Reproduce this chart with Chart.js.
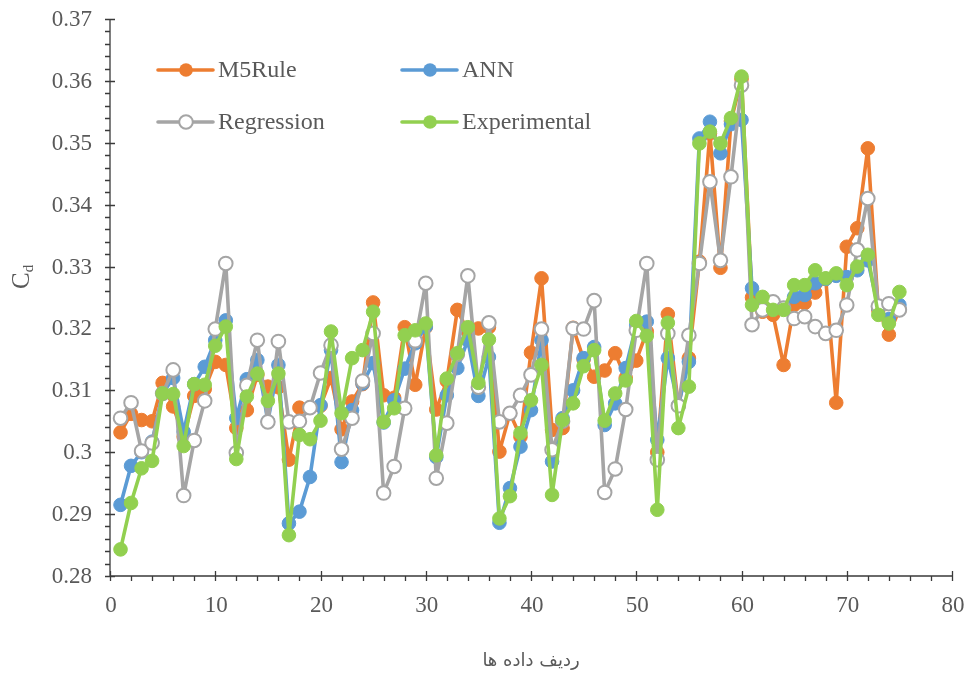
<!DOCTYPE html>
<html>
<head>
<meta charset="utf-8">
<script src="https://cdn.jsdelivr.net/npm/chart.js@4.4.1/dist/chart.umd.min.js"></script>
<style>
  html, body { margin: 0; padding: 0; background: #ffffff; }
  #wrap { width: 968px; height: 679px; position: relative; }
</style>
</head>
<body>
<div id="wrap"><canvas id="c" width="968" height="679"></canvas></div>
<script>
// ---- Data ----
const rowIndex = [1,2,3,4,5,6,7,8,9,10,11,12,13,14,15,16,17,18,19,20,21,22,23,24,25,26,27,28,29,30,31,32,33,34,35,36,37,38,39,40,41,42,43,44,45,46,47,48,49,50,51,52,53,54,55,56,57,58,59,60,61,62,63,64,65,66,67,68,69,70,71,72,73,74,75];

const m5Rule = [0.3032,0.3062,0.3052,0.3050,0.3112,0.3074,0.3025,0.3091,0.3102,0.3146,
  0.3141,0.3039,0.3068,0.3125,0.3106,0.3105,0.2988,0.3072,0.3072,0.3075,
  0.3120,0.3037,0.3082,0.3110,0.3242,0.3092,0.3088,0.3202,0.3109,0.3202,
  0.3069,0.3115,0.3230,0.3195,0.3200,0.3202,0.3001,0.3063,0.3025,0.3161,
  0.3281,0.3036,0.3039,0.3201,0.3150,0.3122,0.3132,0.3160,0.3120,0.3148,
  0.3195,0.3000,0.3223,0.3075,0.3152,0.3308,0.3515,0.3298,0.3535,0.3603,
  0.3250,0.3227,0.3222,0.3141,0.3238,0.3241,0.3258,0.3280,0.3080,0.3332,
  0.3362,0.3491,0.3230,0.3190,0.3230];

const ann = [0.2915,0.2978,0.3000,0.3017,0.3095,0.3120,0.3033,0.3110,0.3138,0.3181,
  0.3213,0.3055,0.3118,0.3149,0.3050,0.3141,0.2885,0.2904,0.2960,0.3076,
  0.3165,0.2984,0.3068,0.3111,0.3144,0.3048,0.3084,0.3135,0.3176,0.3203,
  0.2992,0.3092,0.3136,0.3181,0.3091,0.3154,0.2886,0.2942,0.3009,0.3068,
  0.3181,0.2985,0.3055,0.3100,0.3152,0.3170,0.3044,0.3079,0.3136,0.3205,
  0.3211,0.3020,0.3152,0.3076,0.3146,0.3507,0.3534,0.3483,0.3530,0.3537,
  0.3265,0.3235,0.3232,0.3232,0.3251,0.3254,0.3273,0.3280,0.3285,0.3283,
  0.3294,0.3310,0.3233,0.3215,0.3238];

const regression = [0.3055,0.3080,0.3002,0.3015,0.3095,0.3133,0.2930,0.3019,0.3083,0.3199,
  0.3305,0.2999,0.3108,0.3181,0.3049,0.3179,0.3049,0.3050,0.3072,0.3128,
  0.3173,0.3005,0.3055,0.3115,0.3192,0.2934,0.2977,0.3071,0.3180,0.3273,
  0.2958,0.3047,0.3158,0.3285,0.3105,0.3209,0.3049,0.3063,0.3092,0.3125,
  0.3199,0.3004,0.3050,0.3200,0.3199,0.3245,0.2935,0.2973,0.3069,0.3197,
  0.3305,0.2988,0.3192,0.3075,0.3189,0.3305,0.3437,0.3310,0.3445,0.3593,
  0.3206,0.3230,0.3243,0.3233,0.3216,0.3219,0.3203,0.3192,0.3197,0.3238,
  0.3327,0.3410,0.3236,0.3240,0.3230];

const experimental = [0.2843,0.2918,0.2974,0.2986,0.3095,0.3094,0.3010,0.3110,0.3109,0.3172,
  0.3203,0.2989,0.3090,0.3127,0.3083,0.3127,0.2866,0.3028,0.3021,0.3051,
  0.3195,0.3063,0.3152,0.3165,0.3227,0.3049,0.3071,0.3189,0.3197,0.3208,
  0.2995,0.3119,0.3160,0.3202,0.3112,0.3182,0.2893,0.2929,0.3031,0.3084,
  0.3141,0.2931,0.3052,0.3079,0.3139,0.3165,0.3051,0.3095,0.3116,0.3212,
  0.3188,0.2907,0.3209,0.3039,0.3106,0.3499,0.3518,0.3499,0.3540,0.3607,
  0.3238,0.3251,0.3230,0.3230,0.3270,0.3270,0.3294,0.3281,0.3289,0.3270,
  0.3300,0.3319,0.3222,0.3208,0.3259];

const seriesNames = ['M5Rule', 'ANN', 'Regression', 'Experimental'];
const xTickValues = [0,10,20,30,40,50,60,70,80];
const yTickValues = [0.28,0.29,0.30,0.31,0.32,0.33,0.34,0.35,0.36,0.37];
const xTitle = 'ردیف داده ها';
const yTitleMain = 'C';
const yTitleSub = 'd';

// ---- Styling ----
const colors = ['#ED7D31', '#5B9BD5', '#A5A5A5', '#92D050'];
const textColor = '#595959';
const axisColor = '#3a3a3a';
const serif = '"Liberation Serif", "Times New Roman", serif';

function toPoints(arr) { return rowIndex.map((x, i) => ({ x: x, y: arr[i] })); }

const seriesValues = [m5Rule, ann, regression, experimental];
const datasets = seriesValues.map((vals, i) => {
  const hollow = (i === 2);
  return {
    label: seriesNames[i],
    data: toPoints(vals),
    borderColor: colors[i],
    backgroundColor: colors[i],
    borderWidth: 3.6,
    borderJoinStyle: 'round',
    borderCapStyle: 'round',
    pointRadius: 6.8,
    pointHoverRadius: 6.8,
    pointBackgroundColor: hollow ? '#ffffff' : colors[i],
    pointBorderColor: colors[i],
    pointBorderWidth: hollow ? 2 : 1,
    tension: 0,
    order: 3 - i,
    clip: false
  };
});

const decor = {
  id: 'decor',
  beforeDatasetsDraw(chart) {
    const ctx = chart.ctx, ca = chart.chartArea;
    const xs = chart.scales.x, ys = chart.scales.y;
    ctx.save();
    ctx.strokeStyle = axisColor;
    ctx.lineWidth = 1.3;
    ctx.beginPath();
    ctx.moveTo(ca.left, ca.top); ctx.lineTo(ca.left, ca.bottom);
    ctx.moveTo(ca.left, ca.bottom); ctx.lineTo(ca.right, ca.bottom);
    for (let k = 0; k <= 45; k++) {
      const v = ys.min + k * 0.002;
      const py = Math.round(ys.getPixelForValue(v)) + 0.5;
      ctx.moveTo(ca.left - 5, py); ctx.lineTo(ca.left, py);
    }
    yTickValues.forEach(v => {
      const py = Math.round(ys.getPixelForValue(v)) + 0.5;
      ctx.moveTo(ca.left - 5, py); ctx.lineTo(ca.left + 5, py);
    });
    for (let k = 0; k <= 40; k++) {
      const v = xs.min + k * 2;
      const px = Math.round(xs.getPixelForValue(v)) + 0.5;
      ctx.moveTo(px, ca.bottom); ctx.lineTo(px, ca.bottom + 5);
    }
    xTickValues.forEach(v => {
      const px = Math.round(xs.getPixelForValue(v)) + 0.5;
      ctx.moveTo(px, ca.bottom - 5); ctx.lineTo(px, ca.bottom + 5);
    });
    ctx.stroke();
    ctx.restore();
  },
  afterDraw(chart) {
    const ctx = chart.ctx, ca = chart.chartArea;
    const xs = chart.scales.x, ys = chart.scales.y;
    ctx.save();
    ctx.fillStyle = textColor;
    ctx.font = '23px ' + serif;
    ctx.textAlign = 'right';
    ctx.textBaseline = 'middle';
    yTickValues.forEach(v => {
      ctx.fillText(String(Number(v.toFixed(2))), ca.left - 18, ys.getPixelForValue(v) + 1);
    });
    ctx.textAlign = 'center';
    xTickValues.forEach(v => {
      ctx.fillText(String(v), xs.getPixelForValue(v) + 1, ca.bottom + 30);
    });
    ctx.font = '18px "DejaVu Sans", sans-serif';
    ctx.fillText(xTitle, (ca.left + ca.right) / 2, 661);
    ctx.save();
    ctx.translate(29, 289);
    ctx.rotate(-Math.PI / 2);
    ctx.textAlign = 'left';
    ctx.textBaseline = 'alphabetic';
    ctx.font = '25px ' + serif;
    ctx.fillText(yTitleMain, 0, 0);
    const w = ctx.measureText(yTitleMain).width;
    ctx.font = '15px ' + serif;
    ctx.fillText(yTitleSub, w, 4);
    ctx.restore();
    const items = [
      { i: 0, lx: 158, ly: 70 },
      { i: 1, lx: 402, ly: 70 },
      { i: 2, lx: 158, ly: 122 },
      { i: 3, lx: 402, ly: 122 }
    ];
    items.forEach(it => {
      const c = colors[it.i];
      ctx.strokeStyle = c;
      ctx.lineWidth = 3.6;
      ctx.lineCap = 'round';
      ctx.beginPath();
      ctx.moveTo(it.lx, it.ly); ctx.lineTo(it.lx + 55, it.ly);
      ctx.stroke();
      ctx.beginPath();
      ctx.arc(it.lx + 28, it.ly, 6.8, 0, Math.PI * 2);
      if (it.i === 2) {
        ctx.fillStyle = '#ffffff'; ctx.fill();
        ctx.lineWidth = 2; ctx.strokeStyle = c; ctx.stroke();
      } else {
        ctx.fillStyle = c; ctx.fill();
      }
      ctx.fillStyle = textColor;
      ctx.font = '24px ' + serif;
      ctx.textAlign = 'left';
      ctx.textBaseline = 'middle';
      ctx.fillText(seriesNames[it.i], it.lx + 60, it.ly + 1);
    });
    ctx.restore();
  }
};

new Chart(document.getElementById('c'), {
  type: 'line',
  data: { datasets: datasets },
  options: {
    responsive: false,
    animation: false,
    layout: { padding: { top: 19, right: 16, left: 0, bottom: 0 } },
    plugins: { legend: { display: false }, tooltip: { enabled: false } },
    scales: {
      x: {
        type: 'linear', min: 0, max: 80,
        ticks: { display: false, stepSize: 10 },
        grid: { display: false },
        border: { display: false },
        afterFit(s) { s.height = 103; }
      },
      y: {
        type: 'linear', min: 0.28, max: 0.37,
        ticks: { display: false, stepSize: 0.01 },
        grid: { display: false },
        border: { display: false },
        afterFit(s) { s.width = 110; }
      }
    }
  },
  plugins: [decor]
});
</script>
</body>
</html>
